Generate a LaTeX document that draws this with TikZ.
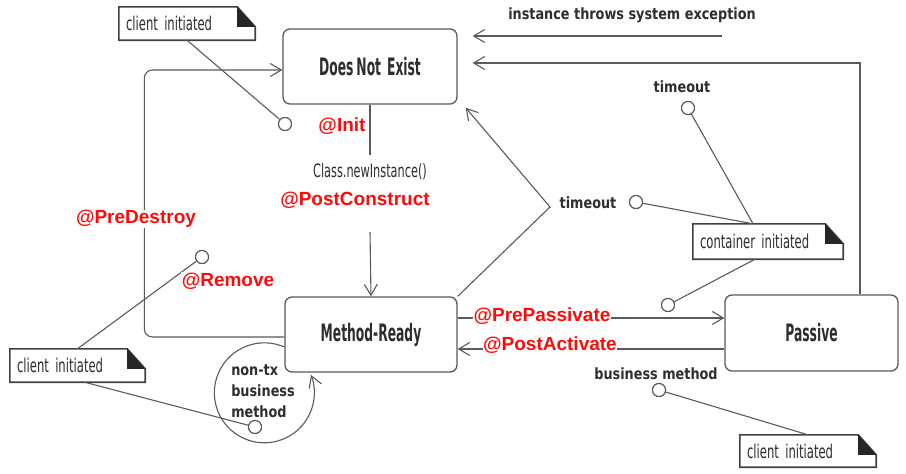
\documentclass[tikz,border=0pt]{standalone}
\usepackage{fontspec}
\setmainfont{DejaVu Sans}
\newfontfamily\cf[FakeStretch=0.68,WordSpace=0.6]{DejaVu Sans Condensed}
\newfontfamily\stf[FakeStretch=0.57,WordSpace=0.7]{DejaVu Sans Condensed}
\newfontfamily\lf[FakeStretch=0.92]{DejaVu Sans Condensed}
\newfontfamily\rf{Liberation Sans}
\usetikzlibrary{calc,arrows.meta}
\definecolor{ln}{HTML}{5A5A5A}
\definecolor{rd}{HTML}{FF0A0A}
\definecolor{tx}{HTML}{2E2E2E}
\tikzset{
 state/.style={draw=ln, line width=1.3pt, rounded corners=7pt, text=tx, font=\stf\bfseries\fontsize{24}{26}\selectfont, minimum width=174pt, minimum height=75pt, inner sep=0pt},
 conn/.style={draw=ln, line width=1.1pt},
 arr/.style={conn, -{Straight Barb[length=11pt,width=13pt,line width=1.1pt]}},
 pin/.style={circle, draw=ln, line width=1.1pt, minimum size=13pt, inner sep=0pt, fill=white},
 notebox/.style={text=tx, font=\cf\fontsize{19}{20}\selectfont, inner xsep=7pt, inner ysep=0pt, align=left, minimum height=33pt},
 noteline/.style={draw=black!75, line width=1.6pt},
 lbl/.style={text=tx, font=\lf\bfseries\fontsize{15.5}{21}\selectfont, inner sep=0pt},
 cls/.style={text=tx, font=\cf\fontsize{18.5}{20}\selectfont, inner sep=0pt},
 redlbl/.style={text=rd, fill=white, font=\rf\bfseries\fontsize{19}{21}\selectfont, inner sep=0.5pt},
}
\newcommand\notedraw[1]{%
 \draw[noteline] (#1.north west) -- ($(#1.north east)+(-18,0)$) -- ($(#1.north east)+(0,20)$) -- (#1.south east) -- (#1.south west) -- cycle;
 \fill[black!85] ($(#1.north east)+(-18,0)$) -- ($(#1.north east)+(-18,20)$) -- ($(#1.north east)+(0,20)$) -- cycle;}
\begin{document}
\begin{tikzpicture}[x=1pt,y=-1pt]
\useasboundingbox[fill=white] (0,0) rectangle (906,474);
% states
\node[state] (dne) at (370,66.5) {Does Not\ \ Exist};
\node[state, minimum width=172pt] (mr) at (371,334.5) {Method-Ready};
\node[state, minimum width=173pt, minimum height=76pt] (ps) at (811.5,333) {Passive};
% notes
\node[notebox, text width=122pt] (n1) at (187,23.5) {client initiated};
\node[notebox, text width=136pt, minimum height=35pt] (n2) at (768,241.5) {container initiated};
\node[notebox, text width=121pt] (n3) at (77.5,365.5) {client initiated};
\node[notebox, text width=122pt, minimum height=32pt] (n4) at (808,451) {client initiated};
\notedraw{n1}\notedraw{n2}\notedraw{n3}\notedraw{n4}
% pins
\node[pin] (c1) at (285,124) {};
\node[pin] (c2) at (202,257) {};
\node[pin] (c3) at (255,427) {};
\node[pin] (c4) at (636,202) {};
\node[pin] (c5) at (668,305) {};
\node[pin] (c6) at (659,390) {};
\node[pin] (c7) at (688,108) {};
% coordinates
\coordinate (tv) at (550,207);
\coordinate (exc) at (722,36);
\coordinate (dn1) at (370,155);
\coordinate (up1) at (370,232);
% transitions
\draw[arr] (exc) -- ([xshift=15pt,yshift=30.5pt]dne.east);
\draw[arr] ([xshift=48.5pt]ps.north) |- ([xshift=15pt,yshift=3.5pt]dne.east);
\draw[arr] (mr.north east) -- (tv) -- ([xshift=8pt,yshift=-3pt]dne.south east);
\draw[conn] (dne.south) -- (dn1);
\draw[arr] (up1) -- (mr.north);
\draw[arr, rounded corners=8pt] ([yshift=-2.5pt]mr.west) -- ++(-140,0) |- ([yshift=-3.5pt]dne.west);
\draw[arr] ([yshift=16.5pt]mr.east) -- ([yshift=15pt]ps.west);
\draw[arr] ([yshift=-16pt]ps.west) -- ([yshift=-14.5pt]mr.east);
\draw[arr] ([yshift=-12.5pt]mr.west) arc[start angle=-66.4, end angle=-381, radius=50];
% note links
\draw[conn] (n1.south) -- (c1);
\draw[conn] (c2) -- (n3.north);
\draw[conn] ([xshift=7pt]n3.south) -- (c3);
\draw[conn] (c7) -- ([xshift=-15pt]n2.north);
\draw[conn] (c4) -- ([xshift=-15pt]n2.north);
\draw[conn] ([xshift=-13pt]n2.south) -- (c5);
\draw[conn] (c6) -- (n4.north);
\node[pin] at (c1) {};\node[pin] at (c2) {};\node[pin] at (c3) {};\node[pin] at (c4) {};
\node[pin] at (c5) {};\node[pin] at (c6) {};\node[pin] at (c7) {};
% labels
\node[lbl] (lexc) at (632,15) {instance throws system exception};
\node[lbl] (lto1) at (682,87) {timeout};
\node[lbl] (lto2) at (588,203) {timeout};
\node[lbl] (lbm) at (656,374) {business method};
\node[lbl, align=left] (lntx) at (263,391) {non-tx\\business\\method};
\node[cls] (lcls) at (370,172) {Class.newInstance()};
% red annotations
\node[redlbl] (rinit) at (342,126) {@Init};
\node[redlbl] (rpc) at (355,200) {@PostConstruct};
\node[redlbl] (rpd) at (136,219) {@PreDestroy};
\node[redlbl] (rrm) at (228,281) {@Remove};
\node[redlbl] (rpp) at (542,316) {@PrePassivate};
\node[redlbl] (rpa) at (550,345) {@PostActivate};
\end{tikzpicture}
\end{document}
